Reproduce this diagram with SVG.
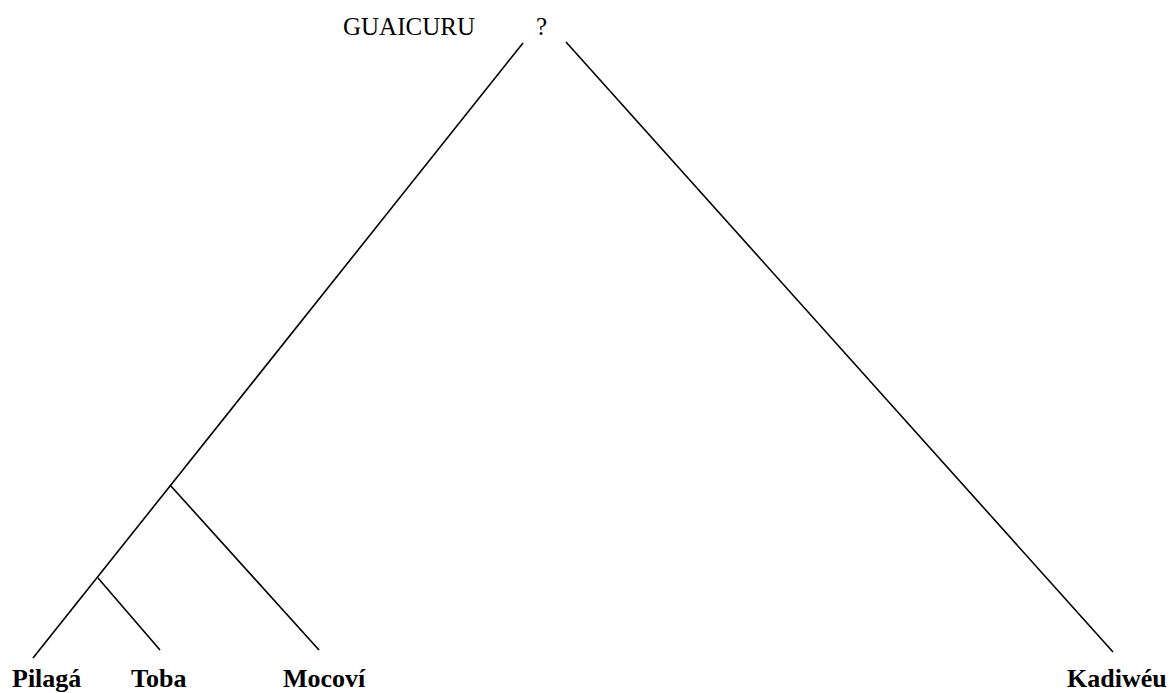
<svg xmlns="http://www.w3.org/2000/svg" width="1173" height="693" viewBox="0 0 1173 693">
<style>
.e{stroke:#000;stroke-width:1.6;fill:none;stroke-linecap:butt}
.t{font-family:"Liberation Serif","Times New Roman",serif;fill:#000}
.b{font-size:26px;font-weight:bold}
.r{font-size:25px}
</style>
<rect width="1173" height="693" fill="#fff"/>
<g id="connectors">
<line class="e" x1="523" y1="43" x2="33" y2="658"/>
<line class="e" x1="566" y1="42" x2="1113" y2="652"/>
<line class="e" x1="98" y1="578" x2="160" y2="650"/>
<line class="e" x1="170" y1="485" x2="319" y2="650"/>
</g>
<g id="root"><text class="t r" x="343" y="35">GUAICURU</text><text class="t r" x="536" y="35">?</text></g>
<g id="pilaga"><text class="t b" x="12" y="687">Pilagá</text></g>
<g id="toba"><text class="t b" x="131" y="687">Toba</text></g>
<g id="mocovi"><text class="t b" x="283" y="687">Mocoví</text></g>
<g id="kadiweu"><text class="t b" x="1067" y="687">Kadiwéu</text></g>
</svg>
